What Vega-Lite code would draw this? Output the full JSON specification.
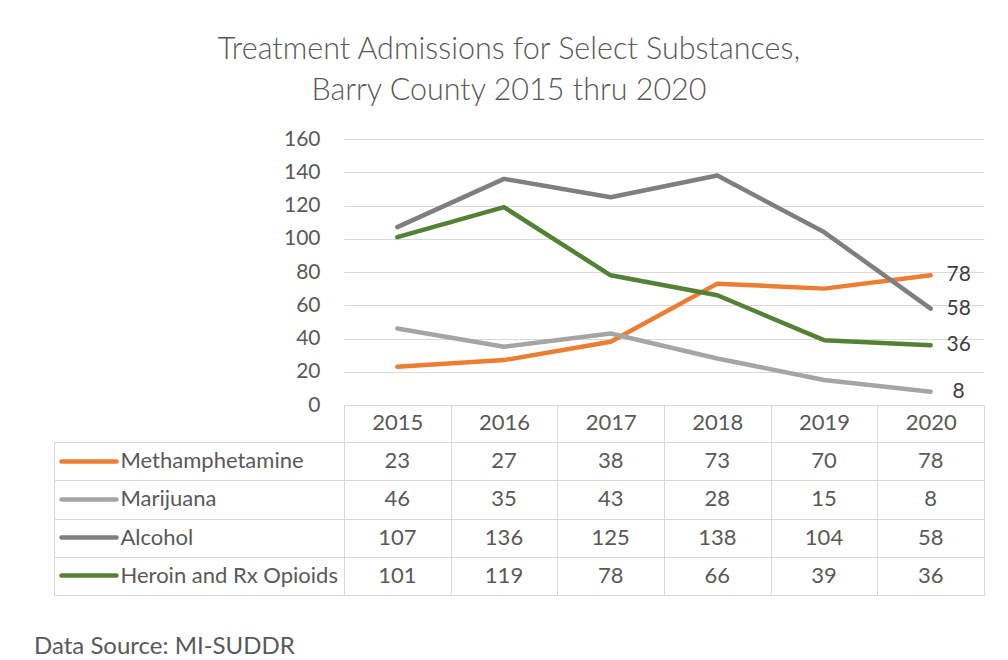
{
  "$schema": "https://vega.github.io/schema/vega-lite/v6.json",
  "padding": {"left": 33, "top": 34, "right": 5, "bottom": 0},
  "background": "white",
  "config": {
    "font": "Lato",
    "view": {"stroke": null},
    "axis": {"labelFont": "Lato", "labelColor": "#595959", "domainColor": "#d9d9d9", "gridColor": "#d9d9d9", "tickColor": "#d9d9d9"}
  },
  "title": {
    "text": ["Treatment Admissions for Select Substances,", "Barry County 2015 thru 2020"],
    "fontSize": 30.5, "fontWeight": 300, "color": "#595959", "lineHeight": 41, "anchor": "middle", "offset": 22
  },
  "data": {"values": [
    {"year": "2015", "substance": "Methamphetamine", "value": 23},
    {"year": "2016", "substance": "Methamphetamine", "value": 27},
    {"year": "2017", "substance": "Methamphetamine", "value": 38},
    {"year": "2018", "substance": "Methamphetamine", "value": 73},
    {"year": "2019", "substance": "Methamphetamine", "value": 70},
    {"year": "2020", "substance": "Methamphetamine", "value": 78},
    {"year": "2015", "substance": "Marijuana", "value": 46},
    {"year": "2016", "substance": "Marijuana", "value": 35},
    {"year": "2017", "substance": "Marijuana", "value": 43},
    {"year": "2018", "substance": "Marijuana", "value": 28},
    {"year": "2019", "substance": "Marijuana", "value": 15},
    {"year": "2020", "substance": "Marijuana", "value": 8},
    {"year": "2015", "substance": "Alcohol", "value": 107},
    {"year": "2016", "substance": "Alcohol", "value": 136},
    {"year": "2017", "substance": "Alcohol", "value": 125},
    {"year": "2018", "substance": "Alcohol", "value": 138},
    {"year": "2019", "substance": "Alcohol", "value": 104},
    {"year": "2020", "substance": "Alcohol", "value": 58},
    {"year": "2015", "substance": "Heroin and Rx Opioids", "value": 101},
    {"year": "2016", "substance": "Heroin and Rx Opioids", "value": 119},
    {"year": "2017", "substance": "Heroin and Rx Opioids", "value": 78},
    {"year": "2018", "substance": "Heroin and Rx Opioids", "value": 66},
    {"year": "2019", "substance": "Heroin and Rx Opioids", "value": 39},
    {"year": "2020", "substance": "Heroin and Rx Opioids", "value": 36}
  ]},
  "spacing": -3,
  "vconcat": [
    {
      "spacing": 0,
      "bounds": "flush",
      "hconcat": [
        {
          "width": 290, "height": 266,
          "data": {"values": []},
          "mark": "point",
          "encoding": {}
        },
        {
          "width": 640, "height": 266,
          "encoding": {
            "x": {"field": "year", "type": "ordinal",
              "scale": {"type": "band", "paddingInner": 0, "paddingOuter": 0},
              "axis": {"title": null, "labelFontSize": 22, "labelAngle": 0, "tickBand": "extent", "tickSize": 36, "labelPadding": -29, "labelBaseline": "top", "grid": false, "domainColor": "#d9d9d9", "tickColor": "#d9d9d9"}},
            "y": {"field": "value", "type": "quantitative",
              "scale": {"domain": [0, 160], "nice": false},
              "axis": {"title": null, "values": [0, 20, 40, 60, 80, 100, 120, 140, 160], "labelFontSize": 21, "ticks": false, "tickSize": 0, "labelPadding": 24, "domain": false, "grid": true}},
            "color": {"field": "substance", "type": "nominal",
              "scale": {"domain": ["Methamphetamine", "Marijuana", "Alcohol", "Heroin and Rx Opioids"], "range": ["#ED7D31", "#A5A5A5", "#7F7F7F", "#548235"]},
              "legend": null}
          },
          "layer": [
            {"mark": {"type": "line", "strokeWidth": 4.5, "strokeCap": "round", "strokeJoin": "round"}},
            {
              "transform": [{"filter": "datum.year == '2020'"}],
              "mark": {"type": "text", "dx": 28, "align": "center", "baseline": "middle", "fontSize": 21},
              "encoding": {"text": {"field": "value", "type": "quantitative"}, "color": {"value": "#404040"}}
            }
          ]
        }
      ]
    },
    {
      "spacing": 0,
      "bounds": "flush",
      "hconcat": [
        {
          "width": 290, "height": 153,
          "view": {"stroke": "#d9d9d9"},
          "title": {"text": "Data Source: MI-SUDDR", "orient": "bottom", "anchor": "start", "dx": -20, "offset": 40, "fontSize": 24, "fontWeight": "normal", "color": "#595959"},
          "mark": {"type": "point", "opacity": 0},
          "encoding": {
            "y": {"field": "substance", "type": "nominal",
              "scale": {"type": "band", "domain": ["Methamphetamine", "Marijuana", "Alcohol", "Heroin and Rx Opioids"], "paddingInner": 0, "paddingOuter": 0},
              "axis": {"title": null, "offset": -62, "tickSize": 55, "tickWidth": 4.5, "tickCap": "round", "labelAlign": "left", "labelPadding": -59, "labelFontSize": 22, "labelLimit": 0, "labelColor": "#595959", "domain": false, "grid": false,
                "tickColor": {"condition": [
                  {"test": "datum.value === 'Methamphetamine'", "value": "#ED7D31"},
                  {"test": "datum.value === 'Marijuana'", "value": "#A5A5A5"},
                  {"test": "datum.value === 'Alcohol'", "value": "#7F7F7F"}
                ], "value": "#548235"}}}
          }
        },
        {
          "width": 640, "height": 153,
          "view": {"stroke": "#d9d9d9"},
          "mark": {"type": "text", "fontSize": 22, "color": "#595959"},
          "encoding": {
            "x": {"field": "year", "type": "ordinal",
              "scale": {"type": "band", "paddingInner": 0, "paddingOuter": 0},
              "axis": {"title": null, "labels": false, "ticks": false, "domain": false, "grid": true, "tickBand": "extent"}},
            "y": {"field": "substance", "type": "nominal",
              "scale": {"type": "band", "domain": ["Methamphetamine", "Marijuana", "Alcohol", "Heroin and Rx Opioids"], "paddingInner": 0, "paddingOuter": 0},
              "axis": {"title": null, "labels": false, "ticks": true, "tickSize": 290, "tickBand": "extent", "domain": false, "grid": true}},
            "text": {"field": "value", "type": "quantitative"}
          }
        }
      ]
    }
  ]
}
